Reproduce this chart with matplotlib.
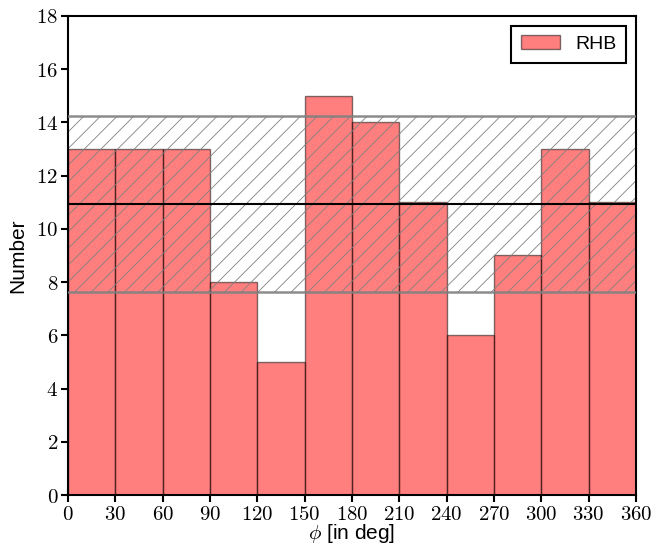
import numpy as np
import matplotlib
matplotlib.use("Agg")
import matplotlib.pyplot as plt

# Counts per 30 degree bin of phi
bin_edges = [0, 30, 60, 90, 120, 150, 180, 210, 240, 270, 300, 330, 360]
counts = [13, 13, 13, 8, 5, 15, 14, 11, 6, 9, 13, 11]
x_ticks = bin_edges
y_ticks = [0, 2, 4, 6, 8, 10, 12, 14, 16, 18]

plt.rcParams['mathtext.fontset'] = 'cm'
plt.rcParams['font.family'] = ['Liberation Sans', 'DejaVu Sans']
plt.rcParams['hatch.linewidth'] = 0.6
plt.rcParams['hatch.color'] = 'grey'

fig = plt.figure(figsize=(6.66, 5.47), dpi=100)
ax = fig.add_axes([0.102, 0.095, 0.853, 0.876])

edges = np.array(bin_edges)
widths = np.diff(edges)
ax.bar(edges[:-1], counts, width=widths, align='edge', color='red', alpha=0.5,
       edgecolor='black', linewidth=1.0, label='RHB', zorder=1)

# mean and poisson scatter band
mean = np.mean(counts)
sig = np.sqrt(mean)
ax.fill_between([edges[0], edges[-1]], mean - sig, mean + sig, facecolor='none',
                edgecolor='grey', hatch='//', linewidth=0, zorder=2)
ax.axhline(mean - sig, color='grey', lw=1.8, alpha=0.9, zorder=3)
ax.axhline(mean + sig, color='grey', lw=1.8, alpha=0.9, zorder=3)
ax.axhline(mean, color='black', lw=1.5, zorder=4)

ax.set_xlim(0, 360)
ax.set_ylim(0, 18)
ax.set_xticks(x_ticks)
ax.set_yticks(y_ticks)
ax.set_xticklabels([f'${v}$' for v in x_ticks])
ax.set_yticklabels([f'${v}$' for v in y_ticks])
ax.tick_params(direction='out', length=5, width=1.5, labelsize=15, pad=2,
               top=False, right=False)
for s in ax.spines.values():
    s.set_linewidth(1.5)

ax.set_xlabel(r'$\phi$ [in deg]', fontsize=15, labelpad=-1)
ax.set_ylabel('Number', fontsize=15, labelpad=6)

leg = ax.legend(loc='upper right', fontsize=14, fancybox=False, framealpha=1,
                borderpad=0.5, handlelength=2.0)
leg.get_frame().set_edgecolor('black')
leg.get_frame().set_linewidth(1.5)

fig.savefig('out.png', dpi=100)
